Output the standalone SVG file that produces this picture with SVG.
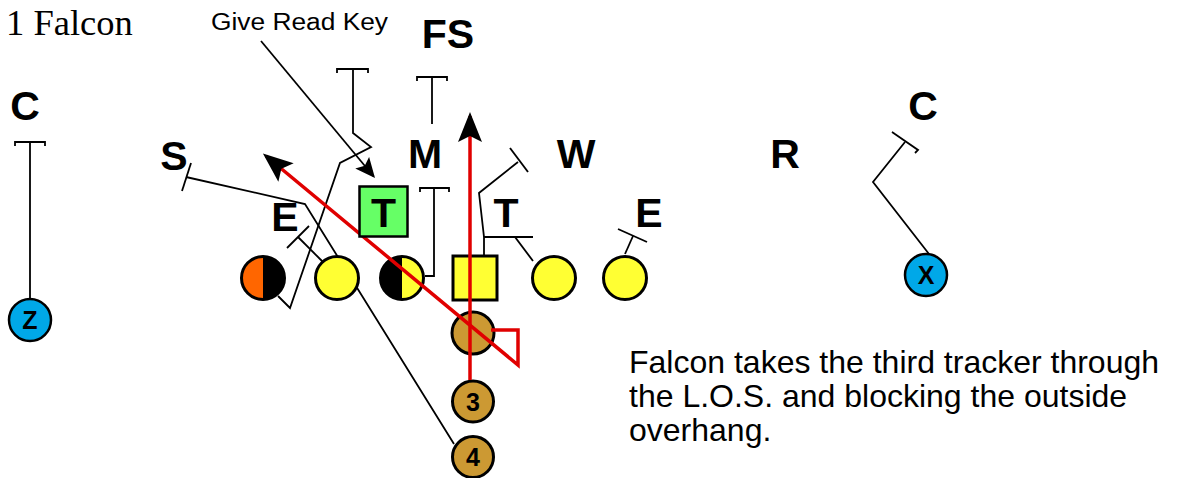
<svg xmlns="http://www.w3.org/2000/svg" width="1178" height="478" viewBox="0 0 1178 478">
<style>
.lbl{font-family:"Liberation Sans",Arial,sans-serif;font-weight:bold;font-size:41px;fill:#000;text-anchor:middle}
.num{font-family:"Liberation Sans",Arial,sans-serif;font-weight:bold;font-size:25px;fill:#000;text-anchor:middle}
.txt{font-family:"Liberation Sans",Arial,sans-serif;font-size:32px;fill:#000}
.p{stroke:#000;stroke-width:3}
.ln{fill:none;stroke:#000;stroke-width:1.8}
.red{fill:none;stroke:#e00000;stroke-width:3.5}
</style>
<defs>
<marker id="ra" markerUnits="userSpaceOnUse" markerWidth="32" markerHeight="26" refX="26" refY="12" orient="auto">
<path d="M0,0 L30,12 L0,24 L6,12 Z" fill="#000"/>
</marker>
<marker id="ba" markerUnits="userSpaceOnUse" markerWidth="22" markerHeight="20" refX="18" refY="9" orient="auto">
<path d="M0,0 L20,9 L0,18 L4,9 Z" fill="#000"/>
</marker>
</defs>
<rect width="1178" height="478" fill="#fff"/>

<text x="6" y="35" font-family="Liberation Serif,'Times New Roman',serif" font-size="36.5">1 Falcon</text>
<text x="211" y="30" font-family="Liberation Sans,Arial,sans-serif" font-size="23" textLength="177" lengthAdjust="spacingAndGlyphs">Give Read Key</text>

<g id="connectors">
<!-- left C to Z -->
<path class="ln" d="M15,146 V142 H45 V146 M30,142 V298"/>
<!-- right C to X -->
<path class="ln" d="M929,254 L873,182 L905,142"/>
<path class="ln" d="M895,134 L892,132 L918,150 L915,153"/>
<!-- S route from 4 -->
<path class="ln" d="M454,444 L305,204 L186,177"/>
<path class="ln" d="M191,163 L182,191"/>
<!-- orange player route -->
<path class="ln" d="M278,296 L290,308 L340,163 L371,147 L353,133 V69"/>
<path class="ln" d="M337,73 V69 H368 V73"/>
<!-- FS/M -->
<path class="ln" d="M432,77 V124"/>
<path class="ln" d="M417,81 V77 H447 V81"/>
<!-- left guard block on E -->
<path class="ln" d="M323,262 L298,237"/>
<path class="ln" d="M287,248 L309,226"/>
<!-- black/yellow lineman block -->
<path class="ln" d="M420,192 V188 H449 V192 M434,188 V276 H425"/>
<!-- center block -->
<path class="ln" d="M484,255 V237 H533 M484,237 L479,193 L518,162"/>
<path class="ln" d="M510,148 L528,172"/>
<!-- right guard -->
<path class="ln" d="M533,261 L515,237"/>
<!-- tackle -->
<path class="ln" d="M625,254 L633,236"/>
<path class="ln" d="M618,229 L647,242"/>
<!-- Give Read Key arrow -->
<path class="ln" d="M261,41 L373.7,176.5" marker-end="url(#ba)"/>
</g>

<g id="offense">
<g id="lt"><circle cx="263" cy="278" r="22" fill="#000"/><path d="M263,256 A22,22 0 0 0 263,300 Z" fill="#ff6600"/><circle cx="263" cy="278" r="21.5" fill="none" class="p"/></g>
<g id="lg"><circle cx="337" cy="278" r="21.5" fill="#ffff33" class="p"/></g>
<g id="lc"><circle cx="402" cy="278" r="22" fill="#ffff33"/><path d="M402,256 A22,22 0 0 0 402,300 Z" fill="#000"/><circle cx="402" cy="278" r="21.5" fill="none" class="p"/></g>
<g id="center"><rect x="453" y="256" width="44" height="44" fill="#ffff33" class="p"/></g>
<g id="rg"><circle cx="554" cy="278" r="21.5" fill="#ffff33" class="p"/></g>
<g id="rt"><circle cx="625" cy="278" r="21.5" fill="#ffff33" class="p"/></g>
<g id="qb"><circle cx="473" cy="333" r="21" fill="#cc9933" class="p"/></g>
<g id="b3"><circle cx="473" cy="401.5" r="20.5" fill="#cc9933" class="p"/><text class="num" x="473" y="410.5">3</text></g>
<g id="b4"><circle cx="473" cy="457" r="20.5" fill="#cc9933" class="p"/><text class="num" x="473" y="466">4</text></g>
<g id="z"><circle cx="30" cy="320" r="21" fill="#00a8e8" stroke="#000" stroke-width="2.5"/><text class="num" x="30" y="329">Z</text></g>
<g id="x"><circle cx="926" cy="275" r="21" fill="#00a8e8" stroke="#000" stroke-width="2.5"/><text class="num" x="926" y="284">X</text></g>
</g>

<g id="red-routes">
<path class="red" d="M470,380 V116" marker-end="url(#ra)"/>
<path class="red" d="M491,330 H518 V365 L266,156" marker-end="url(#ra)"/>
</g>

<g id="defense">
<g id="fs"><text class="lbl" x="448" y="48">FS</text></g>
<g id="cl"><text class="lbl" x="25" y="120">C</text></g>
<g id="cr"><text class="lbl" x="923" y="120">C</text></g>
<g id="s"><text class="lbl" x="174" y="170">S</text></g>
<g id="m"><text class="lbl" x="425" y="168">M</text></g>
<g id="w"><text class="lbl" x="576" y="168">W</text></g>
<g id="r"><text class="lbl" x="785" y="168">R</text></g>
<g id="el"><text class="lbl" x="285" y="231">E</text></g>
<g id="tl"><rect x="359.5" y="186.5" width="48" height="50" fill="#66ff66" stroke="#000" stroke-width="2.5"/><text class="lbl" x="383.5" y="227">T</text></g>
<g id="tr"><text class="lbl" x="506" y="227">T</text></g>
<g id="er"><text class="lbl" x="649" y="227">E</text></g>
</g>

<g id="note">
<text class="txt" x="629" y="373">Falcon takes the third tracker through</text>
<text class="txt" x="629" y="407">the L.O.S. and blocking the outside</text>
<text class="txt" x="629" y="441">overhang.</text>
</g>
</svg>
